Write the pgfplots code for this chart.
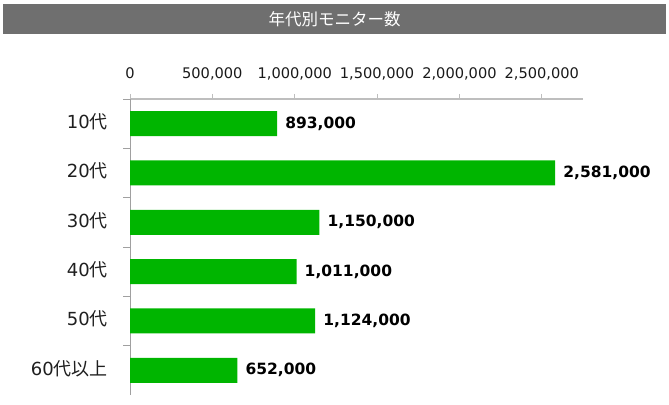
\documentclass[border=0pt]{standalone}
\usepackage{fontspec}
\setmainfont{DejaVu Sans}
\newfontfamily\cjk{Noto Sans CJK JP}
\usepackage{pgfplots}
\pgfplotsset{compat=1.18}
\definecolor{barg}{RGB}{0,181,0}
\definecolor{titlegray}{RGB}{111,111,111}
\definecolor{axgray}{RGB}{190,190,190}
\definecolor{axgray2}{RGB}{160,160,160}
\begin{document}
\begin{tikzpicture}
\path[use as bounding box] (0,0) rectangle (669bp,405bp);
\fill[titlegray] (3bp,371bp) rectangle (666bp,401bp);
\node[text=white, font=\cjk\fontsize{16.5bp}{17bp}\selectfont] at (334.5bp,386bp) {年代別モニター数};
\begin{axis}[
  at={(130bp,10bp)}, anchor=south west,
  scale only axis, width=453bp, height=296bp,
  xbar, bar width=25bp,
  xmin=0, xmax=2750000,
  ymin=-0.5, ymax=5.5,
  axis x line*=top, axis y line*=left,
  x axis line style={axgray, line width=1.6bp},
  y axis line style={axgray2, line width=0.9bp},
  xtick={0,500000,1000000,1500000,2000000,2500000},
  scaled x ticks=false,
  xticklabel style={anchor=base, yshift=15bp, font=\fontsize{14.6bp}{14.6bp}\selectfont, text=black!90},
  /pgf/number format/.cd, fixed, 1000 sep={,}, assume math mode=true, /pgfplots/.cd,
  tick align=outside,
  xtick style={axgray, line width=1bp},
  ytick={0,1,2,3,4,5},
  yticklabels={{60{\cjk 代以上}},{50{\cjk 代}},{40{\cjk 代}},{30{\cjk 代}},{20{\cjk 代}},{10{\cjk 代}}},
  yticklabel style={anchor=east, inner sep=0pt, xshift=-17bp, yshift=2bp, font=\fontsize{18bp}{18bp}\selectfont, text=black!88},
  major y tick style={draw=none},
  minor ytick={0.5,1.5,2.5,3.5,4.5,5.5},
  minor y tick style={axgray2, line width=0.9bp},
  minor tick length=7bp,
  major tick length=5bp,
  nodes near coords={\pgfmathprintnumber[fixed,precision=0,1000 sep={,}]{\pgfplotspointmeta}},
  nodes near coords style={anchor=west, inner sep=0pt, xshift=8bp, font=\bfseries\fontsize{15.5bp}{15.5bp}\selectfont, text=black},
  clip=false,
]
\addplot[fill=barg, draw=none] coordinates {
  (893000,5) (2581000,4) (1150000,3) (1011000,2) (1124000,1) (652000,0)
};
\end{axis}
\end{tikzpicture}
\end{document}
